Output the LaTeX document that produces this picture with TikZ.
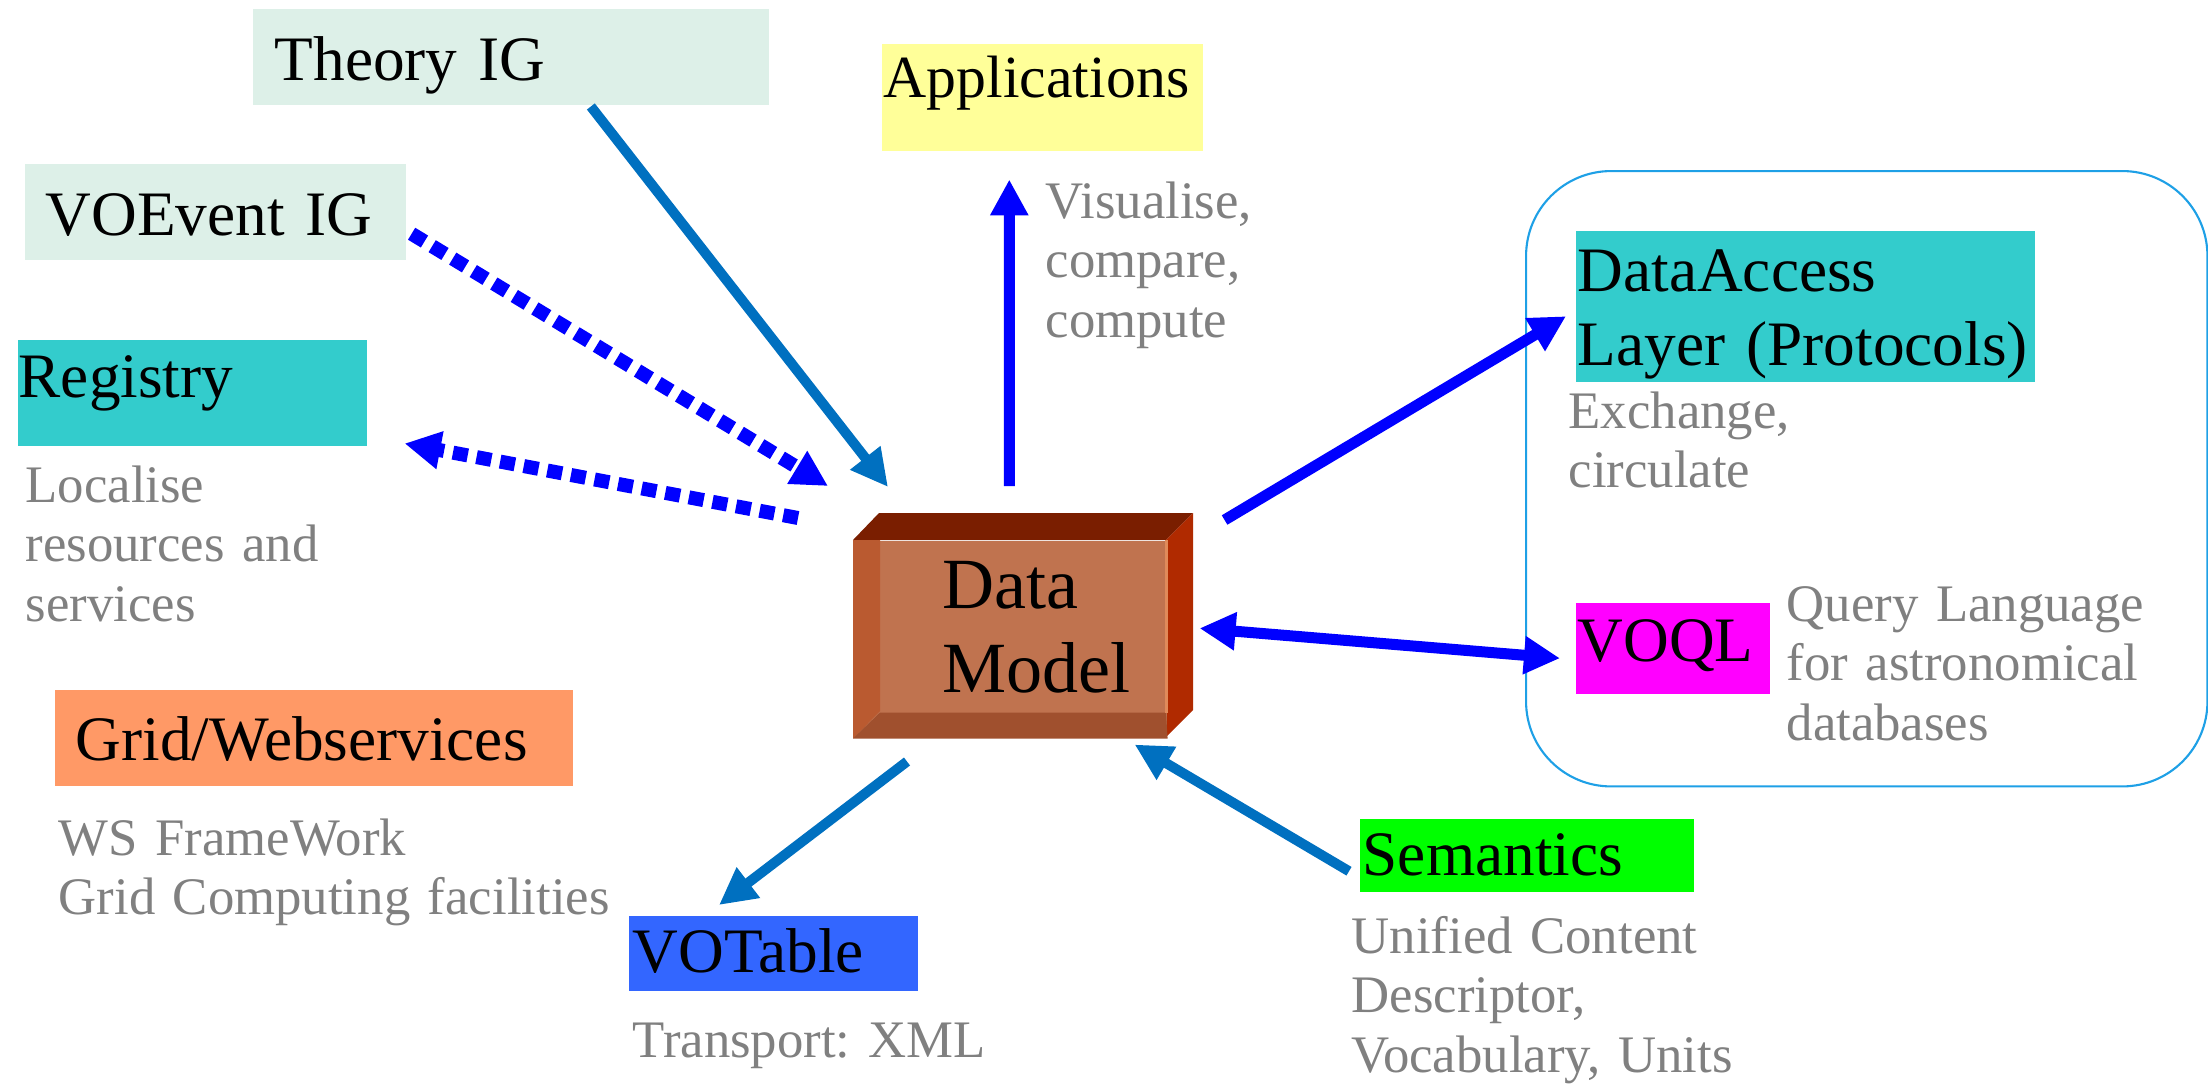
\documentclass[tikz,border=0pt]{standalone}
\usepackage{fontspec}
\setmainfont{Liberation Serif}
\usepackage{tikz}
\usetikzlibrary{arrows.meta}
\frenchspacing
\definecolor{mint}{HTML}{DDF0E8}
\definecolor{paleyellow}{HTML}{FFFF99}
\definecolor{turq}{HTML}{33CCCC}
\definecolor{salmon}{HTML}{FF9966}
\definecolor{royal}{HTML}{3366FF}
\definecolor{semgreen}{HTML}{00FF00}
\definecolor{qlmagenta}{HTML}{FF00FF}
\definecolor{steel}{HTML}{0070C0}
\definecolor{frameblue}{HTML}{1EA0E6}
\definecolor{notegray}{HTML}{808080}
\definecolor{dmtop}{HTML}{7A1E00}
\definecolor{dmside}{HTML}{B02A00}
\definecolor{dmface}{HTML}{C0734F}
\definecolor{dmleft}{HTML}{BA5A30}
\definecolor{dmbottom}{HTML}{A0502E}
\definecolor{dmedge}{HTML}{E08A5A}

\begin{document}
\begin{tikzpicture}[x=0.01cm, y=-0.01cm,
        box/.style={anchor=north west, inner ysep=0pt, align=left, font=\fontsize{18pt}{21pt}\selectfont},
        note/.style={anchor=base west, inner sep=0pt, text width=7cm, align=left, text=notegray, font=\fontsize{15pt}{17pt}\selectfont},
        link/.style={line width=0.1cm, steel, -{Triangle[length=0.37cm,width=0.36cm]}},
        flow/.style={line width=0.11cm, blue, -{Triangle[length=0.36cm,width=0.36cm]}},
        dots/.style={flow, line width=0.14cm, dash pattern=on 0.15cm off 0.09cm}]
            \useasboundingbox (0,0) rectangle (2208,1084);
            \node[draw=frameblue, line width=0.6pt, rounded corners=0.85cm, anchor=north west, inner sep=0pt,
                  minimum width=6.81cm, minimum height=6.15cm] (access) at (1525,170) {};
            \node[box, fill=mint, inner xsep=0.22cm, text width=4.72cm, text height=0.72cm, text depth=0.24cm] (theory) at (252,8) {Theory~IG};
            \node[box, fill=mint, inner xsep=0.21cm, text width=3.39cm, text height=0.72cm, text depth=0.24cm] (voevent) at (24,163) {VOEvent~IG};
            \node[box, fill=paleyellow, font=\fontsize{17pt}{20pt}\selectfont, inner xsep=0.02cm, text width=3.17cm, text height=0.54cm, text depth=0.53cm] (apps) at (881,43) {Applications};
            \node[box, fill=turq, inner xsep=0.01cm, text width=3.47cm, text height=0.58cm, text depth=0.48cm] (registry) at (17,339) {Registry};
            \node[box, fill=salmon, inner xsep=0.21cm, text width=4.76cm, text height=0.71cm, text depth=0.25cm] (grid) at (54,689) {Grid/Webservices};
            \node[box, fill=royal, inner xsep=0.04cm, text width=2.81cm, text height=0.57cm, text depth=0.18cm] (votable) at (628,915) {VOTable};
            \node[box, fill=semgreen, inner xsep=0.03cm, text width=3.28cm, text height=0.57cm, text depth=0.16cm] (semantics) at (1359,818) {Semantics};
            \node[box, fill=turq, inner xsep=0.02cm, text width=4.55cm, text height=0.61cm, text depth=0.90cm] (dal) at (1575,230) {DataAccess\\Layer~(Protocols)};
            \node[box, fill=qlmagenta, inner xsep=0.02cm, text width=1.90cm, text height=0.59cm, text depth=0.32cm] (voql) at (1575,602) {VOQL};

            \node[note] (localise) at (25,502) {Localise\\resources and\\services};
            \node[note] (wsnote) at (58,855) {WS FrameWork\\Grid Computing facilities};
            \node[note] (transport) at (632,1057) {Transport: XML};
            \node[note] (ucd) at (1351,953) {Unified Content\\Descriptor,\\Vocabulary, Units};
            \node[note] (visual) at (1045,218) {Visualise,\\compare,\\compute};
            \node[note] (exchange) at (1568,428) {Exchange,\\circulate};
            \node[note] (querylang) at (1786,621) {Query Language\\for astronomical\\databases};

            \fill[dmtop] (853,540) -- (879,513) -- (1193,513) -- (1166,540) -- cycle;
            \fill[dmside] (1166,540) -- (1193,513) -- (1193,710) -- (1166,737) -- cycle;
            \node[anchor=north west, fill=dmface, inner sep=0pt, minimum width=3.13cm, minimum height=1.97cm] (dm) at (853,540) {};
            \fill[dmleft] (dm.north west) -- ++(27,0) -- ++(0,171) -- (dm.south west) -- cycle;
            \fill[dmbottom] (dm.south west) -- ++(27,-26) -- ++(286,0) -- (dm.south east) -- cycle;
            \fill[dmedge] ([xshift=-0.03cm]dm.north east) rectangle ([yshift=0.26cm]dm.south east);
            \node[anchor=base west, inner sep=0pt, text width=2.2cm, align=left,
                  font=\fontsize{20.5pt}{24pt}\selectfont] (dmlabel) at (942,608) {Data\\Model};

            \draw[link] ([shift={(80,1)}]theory.south) -- ([shift={(35,-53)}]dm.north west);
            \draw[dots] ([shift={(5,22)}]voevent.east) -- ([shift={(-25,-54)}]dm.north west);
            \draw[dots] ([shift={(-55,-22)}]dm.north west) -- ([shift={(37,-3)}]registry.south east);
            \draw[flow] ([shift={(-1,-54)}]dm.north) -- ([shift={(-33,28)}]apps.south);
            \draw[flow] ([shift={(57,-20)}]dm.north east) -- ([shift={(-9,10)}]dal.west);
            \draw[flow, {Triangle[length=0.36cm,width=0.36cm]}-{Triangle[length=0.36cm,width=0.36cm]}]
                ([shift={(32,-11)}]dm.east) -- ([shift={(-15,10)}]voql.west);
            \draw[link] ([shift={(54,23)}]dm.south west) -- ([shift={(91,-10)}]votable.north west);
            \draw[link] ([shift={(-10,16)}]semantics.west) -- ([shift={(-33,6)}]dm.south east);
        \end{tikzpicture}
\end{document}
